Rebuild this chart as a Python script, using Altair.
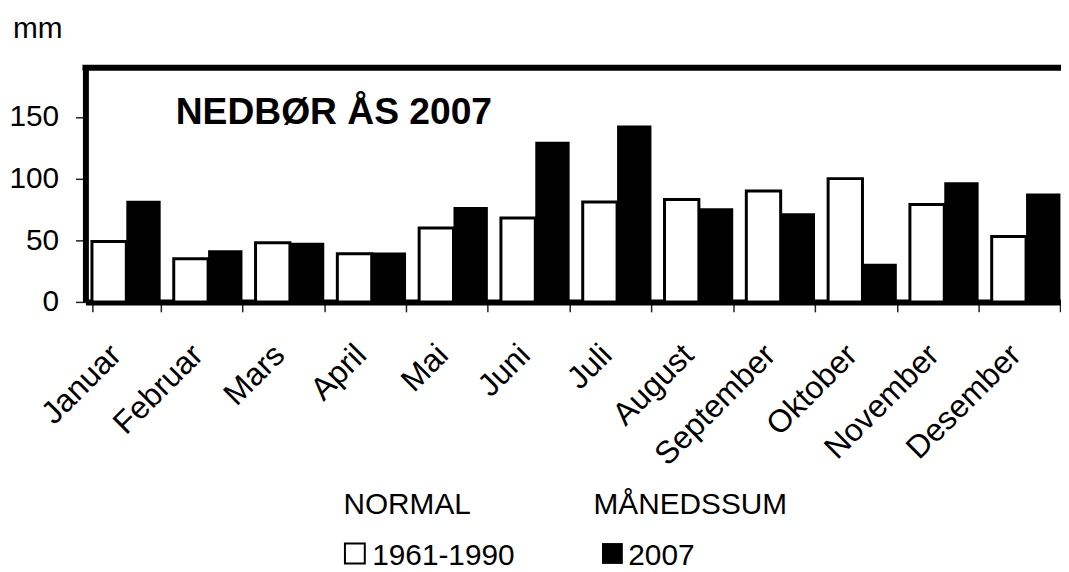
import altair as alt
import pandas as pd

months = ["Januar", "Februar", "Mars", "April", "Mai", "Juni", "Juli",
          "August", "September", "Oktober", "November", "Desember"]
normal_1961_1990 = [49, 35, 48, 39, 60, 68, 81, 83, 90, 100, 79, 53]
sum_2007 = [82, 42, 48, 40, 77, 130, 143, 76, 72, 31, 97, 88]
series_names = ["1961-1990", "2007"]
legend_headers = ["NORMAL", "MÅNEDSSUM"]
y_ticks = [0, 50, 100, 150]
title_text = "NEDBØR ÅS 2007"
unit_label = "mm"

FONT = "Liberation Sans"

rows = []
for m, a, b in zip(months, normal_1961_1990, sum_2007):
    rows.append({"month": m, "series": series_names[0], "value": a})
    rows.append({"month": m, "series": series_names[1], "value": b})
df = pd.DataFrame(rows)

x_enc = alt.X(
    "month:N", sort=months,
    scale=alt.Scale(range=[0, 989], paddingInner=0.16, paddingOuter=0.08),
    axis=alt.Axis(title=None, labelAngle=315, labelAlign="right", labelBaseline="middle",
                  labelPadding=38, labelOffset=-11, tickBand="extent", tickSize=10,
                  tickColor="#222222", tickWidth=1.5, domainWidth=6, domainColor="black",
                  labelFont=FONT, labelFontSize=32, labelColor="black", grid=False),
)
y_enc = alt.Y(
    "value:Q",
    scale=alt.Scale(domain=[0, 190], nice=False),
    axis=alt.Axis(title=None, values=y_ticks, tickSize=10, tickColor="#222222", tickWidth=1.5,
                  labelPadding=17, domainWidth=6, domainColor="black", labelFont=FONT,
                  labelFontSize=30, labelColor="black", grid=False),
)
xoff = alt.XOffset("series:N", scale=alt.Scale(domain=series_names, paddingInner=0, paddingOuter=0))

base = alt.Chart(df)
white_bars = base.transform_filter(alt.datum.series == series_names[0]).mark_bar(
    fill="white", stroke="black", strokeWidth=3
).encode(x=x_enc, y=y_enc, xOffset=xoff)
black_bars = base.transform_filter(alt.datum.series == series_names[1]).mark_bar(
    fill="black", stroke=None
).encode(x=x_enc, y=y_enc, xOffset=xoff)

one = pd.DataFrame({"k": [0]})
top_border = alt.Chart(one).mark_rule(color="black", strokeWidth=6).encode(
    x=alt.value(-3), x2=alt.value(1000), y=alt.value(0))


def text_layer(txt, px, py, size=30, weight="normal"):
    return alt.Chart(pd.DataFrame({"t": [txt]})).mark_text(
        align="left", baseline="alphabetic", font=FONT, fontSize=size,
        fontWeight=weight, color="black"
    ).encode(text="t:N", x=alt.value(px), y=alt.value(py))


mm_text = text_layer(unit_label, -73, -30)
title_layer = text_layer(title_text, 91, 57, size=37.5, weight="bold")
hdr1 = text_layer(legend_headers[0], 260, 450)
hdr2 = text_layer(legend_headers[1], 512, 450)
lab1 = text_layer(series_names[0], 289, 501)
lab2 = text_layer(series_names[1], 547, 501)

sq1 = alt.Chart(pd.DataFrame({"t": [series_names[0]]})).mark_square(
    size=400, fill="white", stroke="black", strokeWidth=2, opacity=1
).encode(x=alt.value(271.5), y=alt.value(489.5))
sq2 = alt.Chart(pd.DataFrame({"t": [series_names[1]]})).mark_square(
    size=441, fill="black", stroke=None, opacity=1
).encode(x=alt.value(531), y=alt.value(489.5))

chart = alt.layer(
    white_bars, black_bars, top_border, mm_text, title_layer,
    hdr1, hdr2, lab1, lab2, sq1, sq2
).properties(
    width=983, height=236,
    autosize=alt.AutoSizeParams(type="none"),
    padding={"left": 78, "top": 58, "right": 0, "bottom": 268},
).configure_view(stroke=None).configure(background="white")

chart.save("out.html", embed_options={"renderer": "svg", "actions": False})
